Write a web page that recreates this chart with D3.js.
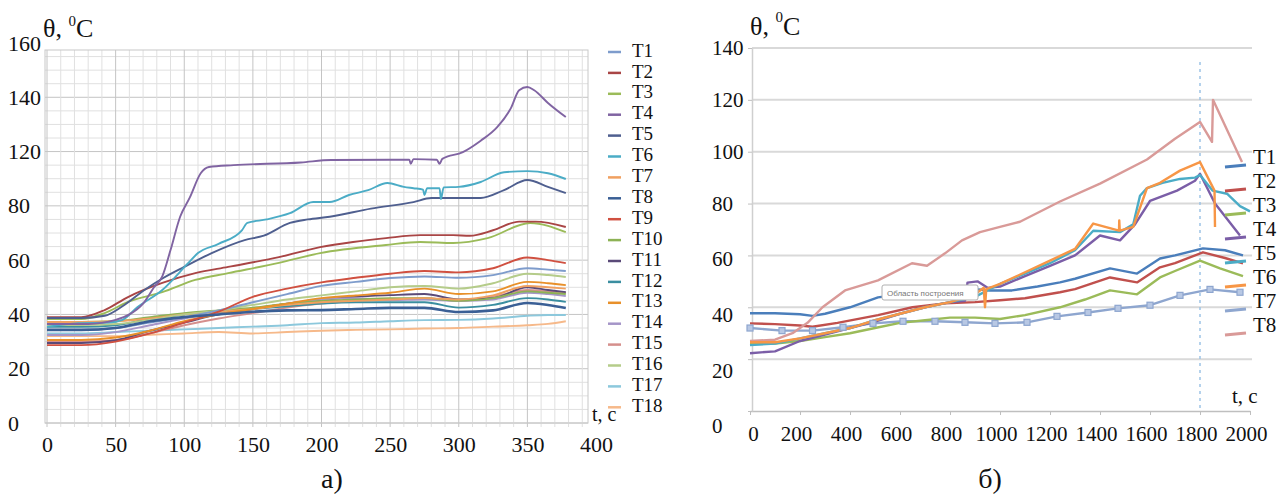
<!DOCTYPE html>
<html>
<head>
<meta charset="utf-8">
<script src="https://cdn.jsdelivr.net/npm/d3@7"></script>
<style>
  body { margin: 0; background: #fff; }
  svg text { font-family: "Liberation Serif", "Times New Roman", Tinos, "DejaVu Serif", "Noto Serif", serif; fill: #111; }
</style>
</head>
<body>
<svg id="chart" width="1282" height="498"></svg>
<script>
const serif = '"Liberation Serif", "Times New Roman", Tinos, "DejaVu Serif", "Noto Serif", serif';

// ---------- data: chart a) ----------
const leftNames = ["T1","T2","T3","T4","T5","T6","T7","T8","T9","T10","T11","T12","T13","T14","T15","T16","T17","T18"];
const leftColors = ["#7e9ccc","#a94545","#9bbb59","#8064a2","#4f5f8f","#4bacc6","#f0a060","#3a5f95","#d05040",
                    "#8db255","#5a4a78","#3a8ea0","#e8902a","#a595c8","#d58f8c","#b5cc8a","#8cc8dc","#f6b98a"];
const leftXTicks = [0, 50, 100, 150, 200, 250, 300, 350, 400];
const leftYTicks = [0, 20, 40, 60, 80, 100, 120, 140];
const leftYLabels = ["0", "20", "40", "60", "80", "120", "140", "160"];

// common time points for the lower bundle of curves
const tLower = [0, 25, 50, 75, 100, 125, 150, 175, 200, 225, 250, 275, 300, 325, 350, 365, 378];
const lowerT1  = [34.3,34.3,35,37,39,41.5,44.5,47.5,50.5,52,53.4,54,53.5,54.5,57,56.5,56];
const lowerT7  = [37.2,37.2,37.5,38.5,40,41,42,43.5,44.5,45,45.5,46,45.5,47,50.5,50,49.5];
const lowerT8  = [34.3,34.3,35,37.5,39,40,41,41.5,41.6,42,42.4,42.4,40.9,41.5,44.2,43.5,42.4];
const lowerT9  = [28.7,28.7,30,33,37,41,46.5,49.5,51.8,53.5,55,56,55.5,57,61,60,58.9];
const lowerT10 = [37.2,37.2,37.5,39,40.5,41.5,42.5,44,45,45.5,46,46,45,46,48.5,48,47.5];
const lowerT11 = [29.5,29.5,30.5,34,37,40,42,44,45.3,46.5,47.1,47.5,45.5,46,50,49,48.2];
const lowerT12 = [35.4,35.4,36,38.5,40,41,42,43,44,44.5,44.5,44.5,42.5,43.5,46,45.5,44.6];
const lowerT13 = [30.6,30.6,31.5,34,37.5,40,42,44,46,47,48,49.5,47.5,48.5,52,51.5,50.8];
const lowerT14 = [32.4,32.4,33.5,36,38.5,40.5,42,44,45.5,46,45.3,45.5,45,45.5,48,47.5,46.8];
const lowerT15 = [30,30,30.5,33,36,38.5,40.5,42.5,44,45,45.5,46,45,46.5,49,48.5,48];
const lowerT16 = [36.1,36.1,36.5,38,40,41.5,43.5,45.5,47,48.5,50,50.5,49.5,51.5,55,54.5,53.8];
const lowerT17 = [33,33,33.5,34,34.5,35,35.5,36,36.8,37,37.5,37.9,38,38.5,39.5,39.8,39.8];
const lowerT18 = [32,32,32,32.5,33,33.5,33,33.5,34,34.3,34.5,34.8,35,35.5,36,36.5,37.5];

// upper curves as [t, value] pairs
const upperT2 = [[0,39],[25,39],[42,41.6],[59,46.4],[84,51.6],[108,55.2],[132,57.5],[169,61.1],[199,64.8],[223,66.7],
  [247,68.1],[272,69.2],[296,69.2],[308,69],[325,71],[344,74.2],[356,74.2],[378,72.2]];
const upperT3 = [[0,38.3],[25,38.3],[42,40.5],[59,44.6],[84,48.2],[108,52.7],[132,55.2],[169,59],[199,62.6],[247,65.6],
  [272,66.7],[296,66.3],[321,68.1],[352,73.7],[378,70.3]];
const upperT4 = [[0,36.5],[30,36.5],[50,38],[60,40],[70,44],[78,50],[84,54],[90,63.7],[97,76],[104,83],[112,92],[118,94.3],
  [136,95],[185,96],[207,96.9],[250,97],[264,97],[265,95.5],[267,97.2],[284,97],[286,95.5],[288,97.3],[303,99.8],[316,104],
  [328,109],[338,116],[344,122.6],[350,123.8],[355,122.6],[365,117.9],[378,112.7]];
const upperT5 = [[0,38.7],[25,38.7],[42,39.5],[55,43],[71,49],[85,53.5],[100,57.5],[120,62.6],[144,67.4],[158,69],
  [177,73.7],[190,75],[206,76],[236,79],[267,81.4],[280,82.9],[316,82.9],[333,85.8],[350,89.5],[365,87],[378,84.7]];
const upperT6 = [[0,35.4],[23,36.8],[45,37],[55,38],[66,42.7],[84,49],[103,59],[110,62.6],[125,66],[142,71],[146,73.7],
  [160,75],[177,77.3],[194,81.4],[206,81.4],[220,84],[234,85.8],[248,88.4],[260,87],[267,86.5],[274,86],[275,84],[277,86.5],
  [286,86.5],[287,82.5],[289,86.8],[300,87],[316,88.8],[333,92.4],[350,92.8],[365,92],[378,89.9]];

// ---------- data: chart б) ----------
const rightNames = ["T1","T2","T3","T4","T5","T6","T7","T8"];
const rightColors = ["#4a7ebb","#c0504d","#9bbb59","#7b5ea7","#4bacc6","#f79646","#8ea6cf","#d99a98"];
const rightXTicks = [0, 200, 400, 600, 800, 1000, 1200, 1400, 1600, 1800, 2000];
const rightYTicks = [0, 20, 40, 60, 80, 100, 120, 140];
const markT = 1800;

const rT1 = [[0,37.7],[100,37.7],[200,37.3],[250,36.7],[300,37.5],[400,40],[512,43.8],[600,45],[728,46.5],[800,46.5],
  [900,47],[960,46.5],[1048,46.5],[1150,48],[1240,49.6],[1300,51],[1440,55],[1548,53],[1640,58.8],[1700,60],[1812,62.7],
  [1900,62],[1972,60]];
const rT2 = [[0,33.8],[100,33.5],[200,33],[250,32.5],[350,34],[512,37],[650,40],[780,41.5],[900,42],[1000,42.7],
  [1100,43.5],[1240,45.8],[1300,47],[1440,51.5],[1548,49.6],[1640,55.4],[1700,57],[1812,61.2],[1900,59],[1972,56.9]];
const rT3 = [[0,26],[100,26],[200,27],[300,28.5],[400,30],[500,32],[600,34],[700,35],[800,36],[900,36],[1000,35.5],
  [1100,37],[1240,40],[1340,43],[1440,46.5],[1548,45],[1640,51.5],[1700,54],[1800,58],[1880,55],[1972,52]];
const rT4 = [[0,22.3],[100,23],[200,27],[300,29.5],[400,32],[500,34.5],[600,37.5],[700,40],[800,42],[860,42.5],
  [870,49.5],[910,50],[950,47.5],[1000,48],[1100,52],[1200,56],[1300,60],[1400,67.7],[1480,65.8],[1540,72],[1600,81],
  [1708,85],[1780,88.8],[1800,91.5],[1860,80],[1960,67.7]];
const rT5 = [[0,25.4],[100,26],[200,28],[300,30],[400,32],[500,35],[600,37.5],[700,40],[800,42],[900,44],[1000,49],
  [1100,53],[1200,57],[1300,62],[1373,69.5],[1480,69],[1533,72],[1560,83],[1588,86],[1650,88],[1720,89.5],[1780,90],
  [1800,91],[1850,85],[1908,83.8],[1960,79],[2000,77]];
const rT6 = [[0,26.5],[100,26.5],[200,28],[300,30],[400,32],[500,35],[600,37.5],[700,40],[800,42],[900,45],[935,47.5],
  [940,40],[945,47],[1000,49],[1100,53.5],[1200,58],[1300,62.5],[1373,72.3],[1476,69.6],[1477,73.5],[1479,69.6],
  [1533,71],[1588,86],[1640,88],[1720,92.7],[1800,96],[1858,85],[1860,71]];
const rT7 = [[0,32],[128,31],[250,31],[372,32.3],[492,33.8],[612,34.6],[740,34.6],[860,34.2],[980,33.8],[1108,34.2],
  [1228,36.5],[1352,38],[1472,39.6],[1600,40.8],[1720,44.6],[1840,46.9],[1960,45.8]];
const rT8 = [[0,27],[100,27.5],[170,30],[230,34],[290,40],[380,46.5],[512,50.4],[648,57],[708,56],[780,60.8],[848,65.8],
  [920,69],[1000,71],[1080,73],[1240,80.8],[1400,87.7],[1588,97],[1700,105],[1800,111.5],[1848,103.8],[1852,120],[1968,96]];

// ---------- build series tables ----------
const zipT = vals => vals.map((v, i) => [tLower[i], v]);
const leftSeries = [
  { name: "T17", pts: zipT(lowerT17) }, { name: "T18", pts: zipT(lowerT18) },
  { name: "T15", pts: zipT(lowerT15) }, { name: "T11", pts: zipT(lowerT11) },
  { name: "T14", pts: zipT(lowerT14) }, { name: "T12", pts: zipT(lowerT12) },
  { name: "T10", pts: zipT(lowerT10) }, { name: "T7", pts: zipT(lowerT7) },
  { name: "T13", pts: zipT(lowerT13) }, { name: "T16", pts: zipT(lowerT16) },
  { name: "T1", pts: zipT(lowerT1) }, { name: "T9", pts: zipT(lowerT9) },
  { name: "T8", pts: zipT(lowerT8) },
  { name: "T3", pts: upperT3 }, { name: "T2", pts: upperT2 },
  { name: "T5", pts: upperT5 }, { name: "T6", pts: upperT6 }, { name: "T4", pts: upperT4 }
];
const rightOrder = ["T7","T3","T2","T1","T8","T4","T5","T6"];
const rightSeries = [rT7, rT3, rT2, rT1, rT8, rT4, rT5, rT6].map((pts, i) => ({ name: rightOrder[i], pts }));

const svg = d3.select("#chart");
const colorL = d3.scaleOrdinal().domain(leftNames).range(leftColors);
const colorR = d3.scaleOrdinal().domain(rightNames).range(rightColors);

// ================= chart a) =================
const xL = d3.scaleLinear().domain([0, 400]).range([47, 596]);
const yL = d3.scaleLinear().domain([0, 140]).range([423, 43]);
const plotL = { x0: 45, x1: 588, y0: 50, y1: 423 };
const gL = svg.append("g");

// grid
gL.append("g").selectAll("line").data(d3.range(0, 136, 5)).join("line")
  .attr("x1", plotL.x0).attr("x2", plotL.x1)
  .attr("y1", d => yL(d)).attr("y2", d => yL(d))
  .attr("stroke", d => d % 20 === 0 ? "#c4c4c4" : "#e0e0e0").attr("stroke-width", 1);
gL.append("g").selectAll("line").data(d3.range(0, 391, 10)).join("line")
  .attr("x1", d => xL(d)).attr("x2", d => xL(d))
  .attr("y1", plotL.y0).attr("y2", plotL.y1 + 4)
  .attr("stroke", d => d % 50 === 0 ? "#c4c4c4" : "#e0e0e0").attr("stroke-width", 1);
gL.append("rect").attr("x", plotL.x0).attr("y", plotL.y0)
  .attr("width", plotL.x1 - plotL.x0).attr("height", plotL.y1 - plotL.y0)
  .attr("fill", "none").attr("stroke", "#c8c8c8");

// axes
const axLx = gL.append("g").attr("transform", "translate(0,433)")
  .call(d3.axisBottom(xL).tickValues(leftXTicks).tickSize(0).tickPadding(3));
axLx.attr("font-family", null).select(".domain").remove();
axLx.selectAll("text").style("font-size", "22px").style("font-family", serif).attr("fill", "#111");

const axLy = gL.append("g").attr("transform", "translate(8,0)")
  .call(d3.axisRight(yL).tickValues(leftYTicks).tickSize(0).tickPadding(0)
    .tickFormat((d, i) => leftYLabels[i]));
axLy.attr("font-family", null).select(".domain").remove();
axLy.selectAll("text").style("font-size", "22px").style("font-family", serif).attr("fill", "#111");

// lines
const lineL = d3.line().x(d => xL(d[0])).y(d => yL(d[1])).curve(d3.curveMonotoneX);
gL.append("g").selectAll("path").data(leftSeries).join("path")
  .attr("d", d => lineL(d.pts))
  .attr("fill", "none")
  .attr("stroke", d => colorL(d.name))
  .attr("stroke-width", d => d.name === "T8" ? 2.6 : 1.9)
  .attr("stroke-linejoin", "round");

// legend
const legL = gL.append("g").selectAll("g").data(leftNames).join("g")
  .attr("transform", (d, i) => `translate(608,${50 + i * 20.9})`);
legL.append("line").attr("x1", 0).attr("x2", 13).attr("y1", 2).attr("y2", 2)
  .attr("stroke", d => colorL(d)).attr("stroke-width", 2.5);
legL.append("text").attr("x", 24).attr("dy", "0.35em").style("font-size", "19px").style("font-family", serif).text(d => d);

// titles
gL.append("text").attr("x", 43).attr("y", 37).style("font-size", "26px").style("font-family", serif)
  .call(t => { t.append("tspan").text("θ, "); t.append("tspan").attr("dy", -11).style("font-size", "15px").text("0");
               t.append("tspan").attr("dy", 11).text("C"); });
gL.append("text").attr("x", 592).attr("y", 421).style("font-size", "20px").style("font-family", serif).text("t, c");
gL.append("text").attr("x", 332).attr("y", 488).attr("text-anchor", "middle")
  .style("font-size", "28px").style("font-family", serif).text("а)");

// ================= chart б) =================
const xR = d3.scaleLinear().domain([0, 2000]).range([750, 1250]);
const yR = d3.scaleLinear().domain([0, 140]).range([411, 48]);
const gR = svg.append("g");

gR.append("g").selectAll("line").data(rightYTicks.filter(v => v > 0)).join("line")
  .attr("x1", 752).attr("x2", 1252)
  .attr("y1", d => yR(d)).attr("y2", d => yR(d))
  .attr("stroke", "#d9d9d9").attr("stroke-width", 2);

const axRx = gR.append("g").attr("transform", `translate(0,${yR(0)})`)
  .call(d3.axisBottom(xR).tickValues(rightXTicks).tickSize(4).tickSizeOuter(0).tickPadding(11)
    .tickFormat(d3.format("d")));
axRx.attr("font-family", null);
axRx.select(".domain").attr("stroke", "#bfbfbf").attr("stroke-width", 1.5);
axRx.selectAll("line").attr("stroke", "#bfbfbf");
axRx.selectAll("text").attr("x", d => d === 0 ? 3 : -4)
  .style("font-size", "21px").style("font-family", serif).attr("fill", "#111");

const axRy = gR.append("g").attr("transform", "translate(752,0)")
  .call(d3.axisLeft(yR).tickValues(rightYTicks).tickSize(4).tickSizeOuter(0).tickPadding(5));
axRy.attr("font-family", null);
axRy.select(".domain").attr("stroke", "#cfcfcf").attr("stroke-width", 1.5);
axRy.selectAll("line").attr("stroke", "#bfbfbf");
axRy.selectAll("text").attr("text-anchor", "start").attr("x", -40)
  .style("font-size", "21px").style("font-family", serif).attr("fill", "#111")
  .attr("dy", d => `${0.32 + Math.max(0, 80 - d) * 0.009}em`);

// vertical dashed marker
gR.append("line").attr("x1", xR(markT)).attr("x2", xR(markT)).attr("y1", 62).attr("y2", 408)
  .attr("stroke", "#9dc3e6").attr("stroke-width", 1.5).attr("stroke-dasharray", "3,4");

const lineR = d3.line().x(d => xR(d[0])).y(d => yR(d[1]));
gR.append("g").selectAll("path").data(rightSeries).join("path")
  .attr("d", d => lineR(d.pts))
  .attr("fill", "none")
  .attr("stroke", d => colorR(d.name))
  .attr("stroke-width", 2.4)
  .attr("stroke-linejoin", "round");

// square markers on T7
gR.append("g").selectAll("rect").data(rT7).join("rect")
  .attr("x", d => xR(d[0]) - 3).attr("y", d => yR(d[1]) - 3)
  .attr("width", 6).attr("height", 6)
  .attr("fill", "#b8c8e4").attr("stroke", colorR("T7")).attr("stroke-width", 1.2);

// tooltip left in the picture
const tip = gR.append("g").attr("transform", "translate(882,285)");
tip.append("rect").attr("width", 96).attr("height", 15).attr("rx", 2)
  .attr("fill", "#fff").attr("stroke", "#b0b0b0");
tip.append("text").attr("x", 5).attr("y", 11)
  .style("font-family", "Liberation Sans, Arial, sans-serif").style("font-size", "8px").style("fill", "#777")
  .text("Область построения");

// legend
const legR = gR.append("g").selectAll("g").data(rightNames).join("g")
  .attr("transform", (d, i) => `translate(1225,${157 + i * 24})`);
legR.append("line").attr("x1", 0).attr("x2", 21).attr("y1", 10).attr("y2", 8)
  .attr("stroke", d => colorR(d)).attr("stroke-width", 3);
legR.append("text").attr("x", 28).attr("dy", "0.35em").style("font-size", "21px").style("font-family", serif).text(d => d);

// titles
gR.append("text").attr("x", 750).attr("y", 35).style("font-size", "26px").style("font-family", serif)
  .call(t => { t.append("tspan").text("θ, "); t.append("tspan").attr("dy", -13).style("font-size", "15px").text("0");
               t.append("tspan").attr("dy", 13).text("C"); });
gR.append("text").attr("x", 1232).attr("y", 403).style("font-size", "21px").style("font-family", serif).text("t, c");
gR.append("text").attr("x", 990).attr("y", 488).attr("text-anchor", "middle")
  .style("font-size", "28px").style("font-family", serif).text("б)");
</script>
</body>
</html>
